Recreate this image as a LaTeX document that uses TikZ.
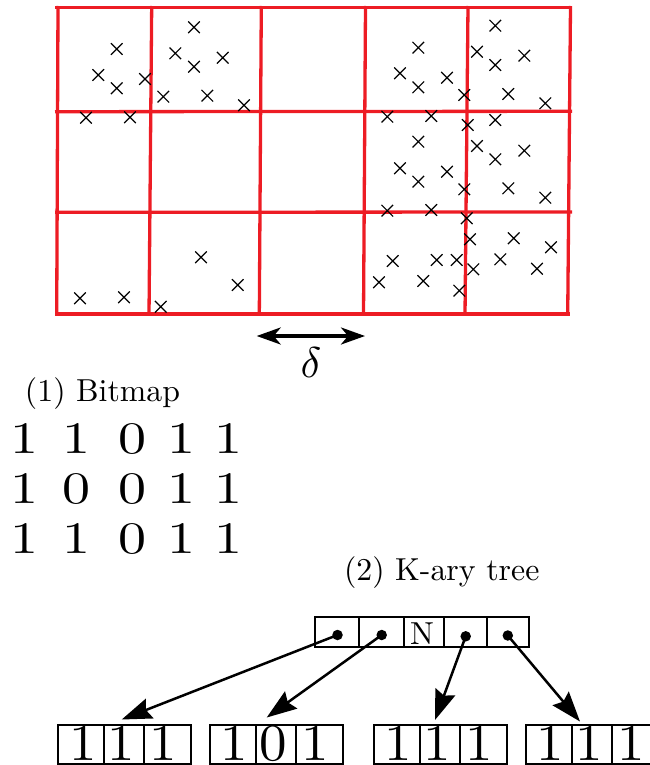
\documentclass[tikz,border=0pt]{standalone}
\usepackage{graphicx}
\usetikzlibrary{arrows.meta}
\definecolor{gridred}{RGB}{237,28,36}
% text helpers: labels, bitmap digits and leaf digits
\newcommand\lbl[1]{\scalebox{3.18}{#1}}
\newcommand\bitnum[1]{\scalebox{5.6}[4.5]{#1}}
\newcommand\boxnum[1]{\scalebox{5.5}[5.2]{#1}}
\begin{document}
\begin{tikzpicture}[x=1pt,y=-1pt,
  gridline/.style={draw=gridred, line width=3.3pt},
  cross/.style={draw=black, line width=1.2pt},
  bitdigit/.style={anchor=base, inner sep=0pt},
  leafbox/.style={draw, line width=1.8pt, minimum width=133pt, minimum height=39pt,
    inner sep=0pt, outer sep=0pt, anchor=north west},
  cellrule/.style={line width=1.8pt},
  knode/.style={draw, line width=2pt, minimum width=214pt, minimum height=30pt,
    inner sep=0pt, outer sep=0pt, anchor=north west},
  dot/.style={circle, fill=black, inner sep=0pt, minimum size=10.5pt},
  treearrow/.style={line width=2.5pt, -{Stealth[length=30pt,width=21pt,inset=4pt]}},
  deltaarrow/.style={line width=3.3pt, {Stealth[length=24pt,width=17pt,inset=7pt]}-{Stealth[length=24pt,width=17pt,inset=7pt]}}
]
\useasboundingbox (0,0) rectangle (649,765);

% ---- grid of cells ----
\draw[gridline] (55,7.3) -- (572,7.3);
\draw[gridline] (55,111.7) -- (572,111.3);
\draw[gridline] (55,212.3) -- (572,212);
\draw[gridline] (55,314) -- (570,314);
\draw[gridline] (58,6) -- (56.7,315.5);
\draw[gridline] (151.7,6) -- (149,315.5);
\draw[gridline] (261.3,6) -- (259.3,315.5);
\draw[gridline] (365.5,6) -- (363.5,315.5);
\draw[gridline] (468,6) -- (465,315.5);
\draw[gridline] (570.5,6) -- (567.7,315.5);

% ---- data points ----
\foreach \cx/\cy in {
  116.7/49, 98.3/75, 116.7/88.3, 145/79, 86/117.7, 130/117.3,
  194/27.3, 175.3/53.3, 194/66.7, 222.7/57.7, 163.3/96.7, 207.3/95.7, 244/105.3,
  80/298.3, 124/297.3, 160.7/306.7, 201/257.3, 237.7/285,
  418.3/47.7, 400/73.3, 418.3/87.3, 447/77.7, 387.3/116.7, 431.3/116, 464.3/95,
  495.3/25.7, 477/51.7, 495.3/65, 524.3/55.7, 508.3/94, 545.3/103.3,
  418.3/141.7, 400/168.3, 418.3/181.7, 447/171.7, 387.3/210.7, 431.3/210, 464.3/189.3,
  467.7/125, 495.3/120, 477/146, 495.3/159.3, 524.3/150.7, 508.3/188.3, 545.3/197.7,
  466.7/218.3, 470/239.3, 392.7/261, 436.7/260, 456.7/260, 379/282.3, 423.3/281,
  459.3/290.7, 473.3/269.3, 513.7/238.3, 500.3/259.3, 551/247.3, 537/268.7}
  \draw[cross] (\cx-5.8,\cy-5.8) -- (\cx+5.8,\cy+5.8)
               (\cx-5.8,\cy+5.8) -- (\cx+5.8,\cy-5.8);

% ---- cell width ----
\coordinate (dl) at (256.7,336);
\coordinate (dr) at (365,336);
\draw[deltaarrow] (dl) -- (dr);
\node (delta) at (311,363) {\scalebox{4.3}{$\delta$}};

% ---- (1) bitmap ----
\node[anchor=base] (bitmaplabel) at (102.5,401.7) {\lbl{(1) Bitmap}};
\foreach \c/\xx/\v in {1/24/1,2/76/1,3/132/0,4/181/1,5/228/1}
  \node[bitdigit] (m1\c) at (\xx,453.3) {\bitnum{\v}};
\foreach \c/\xx/\v in {1/24/1,2/76/0,3/132/0,4/181/1,5/228/1}
  \node[bitdigit] (m2\c) at (\xx,503.3) {\bitnum{\v}};
\foreach \c/\xx/\v in {1/24/1,2/76/1,3/132/0,4/181/1,5/228/1}
  \node[bitdigit] (m3\c) at (\xx,553.3) {\bitnum{\v}};

% ---- (2) k-ary tree ----
\node[anchor=base] (treelabel) at (441.7,580) {\lbl{(2) K-ary tree}};
\node[knode] (kn) at (315,616.7) {};
\foreach \s in {44.3,89.3,129,171.7}
  \draw[line width=2pt] ([xshift=\s pt]kn.north west) -- ([xshift=\s pt]kn.south west);
\node[anchor=base] (nullcell) at (422,644) {\lbl{N}};
\node[dot] (d1) at (337.5,635) {};
\node[dot] (d2) at (381.7,635) {};
\node[dot] (d3) at (465.7,636.3) {};
\node[dot] (d4) at (507.8,635.5) {};

% leaves
\foreach \i/\lx/\a/\b/\c in {1/58.3/1/1/1, 2/210/1/0/1, 3/374/1/1/1, 4/526/1/1/1} {
  \node[leafbox] (b\i) at (\lx,725) {};
  \draw[cellrule] ([xshift=46pt]b\i.north west) -- ([xshift=46pt]b\i.south west);
  \draw[cellrule] ([xshift=86pt]b\i.north west) -- ([xshift=86pt]b\i.south west);
  \node[bitdigit] (b\i-1) at (\lx+24.5,760) {\boxnum{\a}};
  \node[bitdigit] (b\i-2) at (\lx+63,760) {\boxnum{\b}};
  \node[bitdigit] (b\i-3) at (\lx+105,760) {\boxnum{\c}};
}

\coordinate (t1) at (121.7,719.5);
\coordinate (t2) at (266.7,717.5);
\coordinate (t3) at (435,720);
\coordinate (t4) at (580,721.5);
\draw[treearrow] (d1.center) -- (t1);
\draw[treearrow] (d2.center) -- (t2);
\draw[treearrow] (d3.center) -- (t3);
\draw[treearrow] (d4.center) -- (t4);
\end{tikzpicture}
\end{document}
